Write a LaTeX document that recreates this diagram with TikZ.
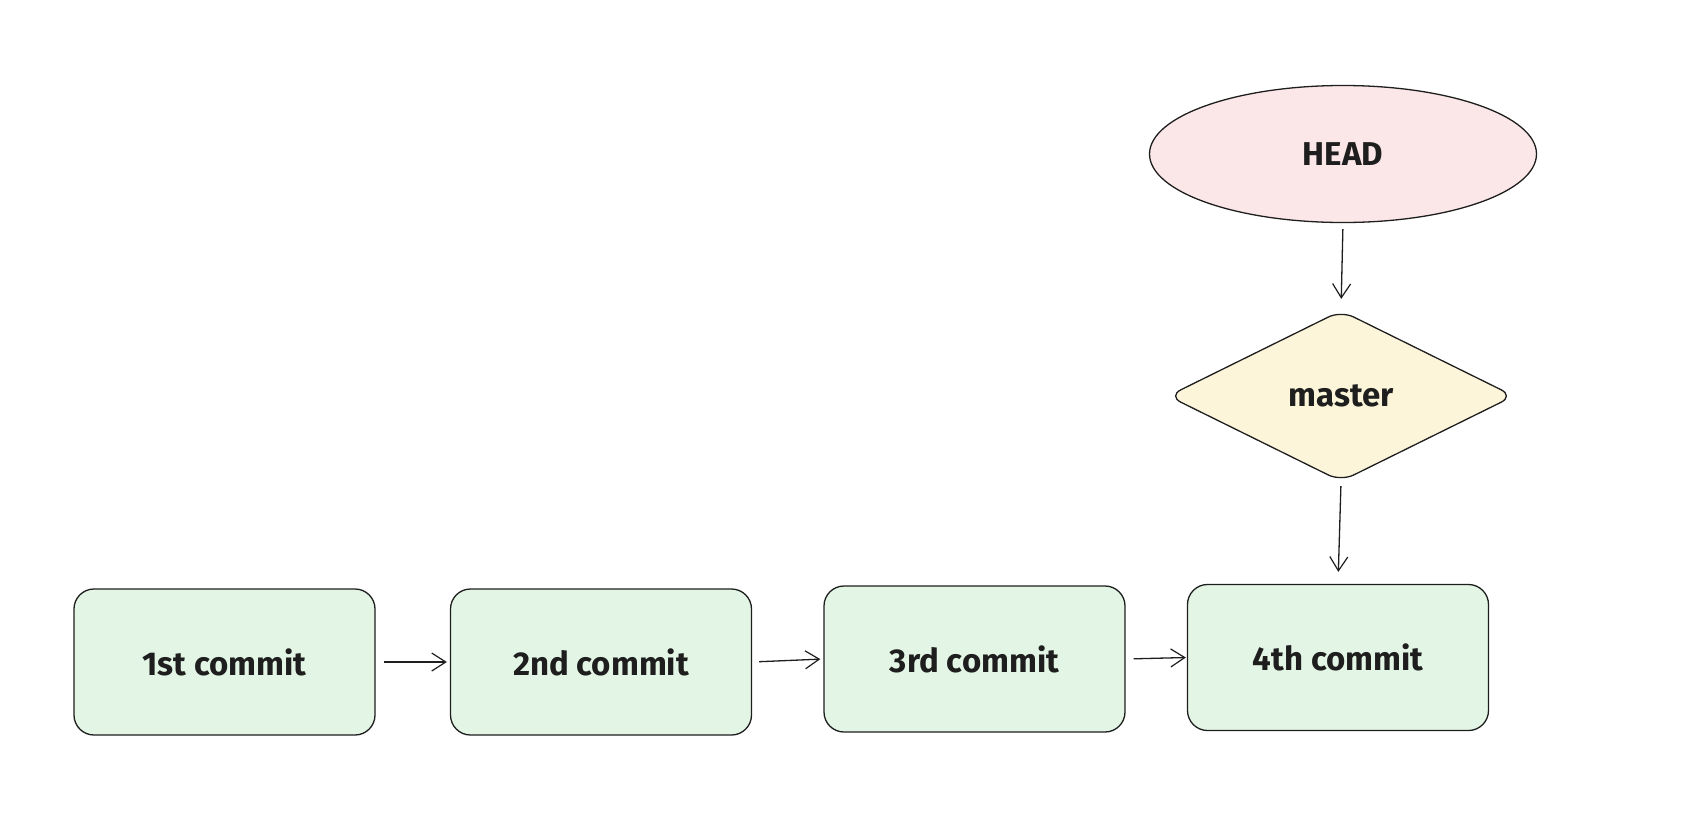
\documentclass[tikz,border=0pt]{standalone}
\usepackage{fontspec}
\setmainfont{Fira Sans}
\usetikzlibrary{shapes.geometric,arrows.meta}
\definecolor{ink}{HTML}{1E1E1E}
\definecolor{gfill}{HTML}{E3F6E5}
\definecolor{rfill}{HTML}{FBE7E7}
\definecolor{yfill}{HTML}{FCF5DA}
\tikzset{
  labelfont/.style={font=\fontsize{33}{38}\selectfont\bfseries, text=ink},
  commitbox/.style={draw=ink, line width=1.3pt, fill=gfill, rounded corners=20pt,
    minimum width=301pt, minimum height=146pt, inner sep=0pt, labelfont},
  headnode/.style={ellipse, draw=ink, line width=1.3pt, fill=rfill,
    minimum width=387pt, minimum height=137pt, inner sep=0pt, labelfont},
  branchnode/.style={diamond, draw=ink, line width=1.3pt, fill=yfill, rounded corners=14pt,
    minimum width=346pt, minimum height=171pt, inner sep=0pt, labelfont},
  link/.style={draw=ink, line width=1.3pt, -{Straight Barb[length=14pt,width=18pt,line width=1.2pt]}},
}
\begin{document}
\begin{tikzpicture}[x=1pt,y=-1pt]
\useasboundingbox (0,0) rectangle (1694,822);
\node[commitbox] (c1) at (224.5,662) {1st commit};
\node[commitbox] (c2) at (601,662) {2nd commit};
\node[commitbox] (c3) at (974.5,659) {3rd commit};
\node[commitbox] (c4) at (1338,657.5) {4th commit};
\node[headnode] (head) at (1343,154) {HEAD};
\node[branchnode] (master) at (1341,396) {master};
\draw[link, shorten <=8pt, shorten >=3pt] (c1.east) -- (c2.west);
\draw[link, shorten <=7pt, shorten >=3pt] (c2.east) -- (c3.west);
\draw[link, shorten <=8pt, shorten >=1pt] (c3.east) -- (c4.west);
\draw[link, shorten <=6pt, shorten >=11pt] (head.south) -- (master.north);
\draw[link, shorten <=4pt, shorten >=12pt] (master.south) -- (c4.north);
\end{tikzpicture}
\end{document}
